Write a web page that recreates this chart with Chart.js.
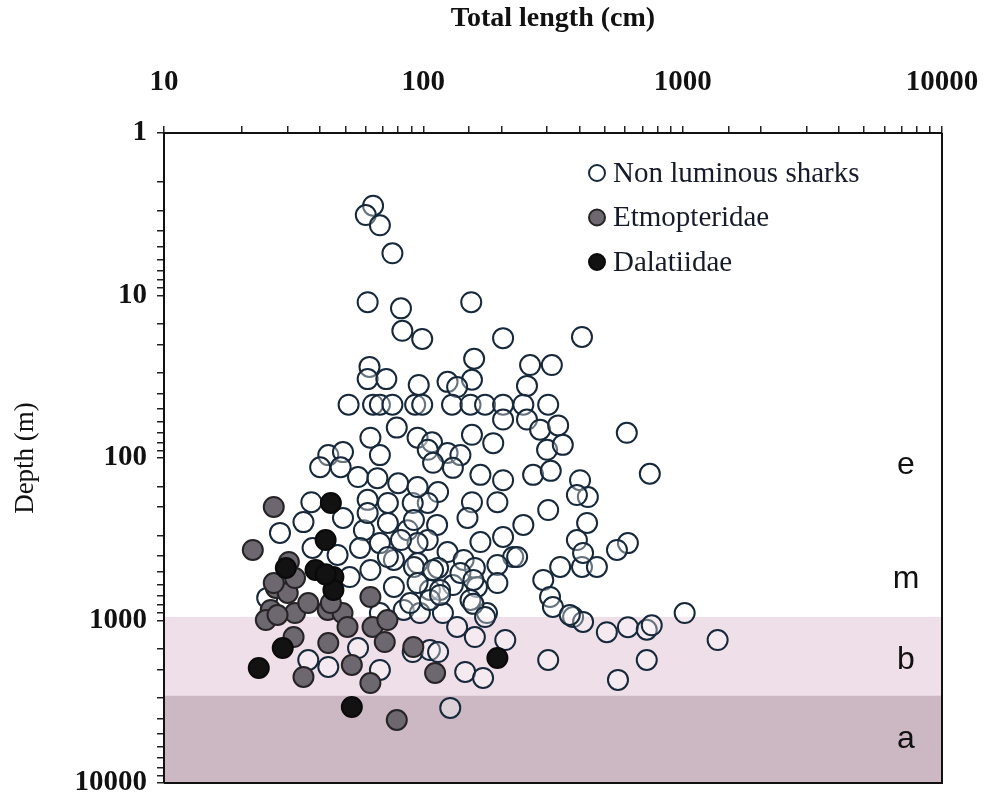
<!DOCTYPE html>
<html>
<head>
<meta charset="utf-8">
<script src="https://cdn.jsdelivr.net/npm/chart.js@4.4.1/dist/chart.umd.min.js"></script>
<style>
  html, body { margin: 0; padding: 0; background: #fff; }
  #wrap { width: 984px; height: 801px; }
</style>
</head>
<body>
<div id="wrap"><canvas id="sharkChart" width="984" height="801"></canvas></div>
<script>
// ============================================
// DATA (total length in cm, depth in m)
// ============================================
const lengthTicks = [10, 100, 1000, 10000];
const depthTicks = [1, 10, 100, 1000, 10000];
const seriesNames = ['Non luminous sharks', 'Etmopteridae', 'Dalatiidae'];

const nonLuminous = [
    [64, 2.8], [60, 3.2], [68, 3.7], [76, 5.5],
    [61, 11], [82, 12], [153, 11], [83, 16.5], [99, 18.5], [203, 18.3], [409, 18],
    [157, 24.5], [258, 26.8], [313, 26.8], [62, 27.5], [61, 32.7], [72, 32.7], [154, 33],
    [96, 35.5], [124, 34], [135, 36.6], [251, 36],
    [51.5, 47], [64, 47], [68, 47], [76, 47], [93, 47], [99, 47], [129, 47], [152, 47],
    [173, 47], [203, 47], [243, 47], [303, 47],
    [203, 58], [251, 58], [282, 67], [331, 63], [79, 65], [62.5, 75], [95, 75], [108, 80],
    [154, 72], [186, 81], [104, 89], [300, 89], [345, 83],
    [43, 96], [49, 92], [68, 96], [124, 93], [139, 96], [609, 70], [747, 125],
    [265, 127], [310, 120], [402, 137], [431, 174], [303, 209], [243, 258], [428, 251],
    [391, 320], [615, 334], [558, 368], [222, 407], [337, 468], [409, 468], [467, 468],
    [290, 563], [308, 716], [316, 826], [378, 952], [413, 1020], [510, 1180], [615, 1100],
    [727, 1140], [760, 1070], [1018, 900], [1364, 1320], [303, 1750], [727, 1750], [563, 2320],
    [109, 107], [130, 115], [166, 127], [203, 137], [391, 169], [114, 162], [104, 189],
    [154, 187], [193, 187], [113, 258], [148, 234], [104, 320], [166, 329], [203, 306],
    [124, 379], [143, 424], [230, 407], [193, 455], [413, 384], [114, 475], [158, 475],
    [130, 605], [161, 622], [193, 588], [106, 649],
    [37, 187], [61, 181], [73, 189], [91, 189], [48, 114], [40, 114], [56, 131], [66.5, 133],
    [80, 143], [95, 151], [28, 289], [34.5, 248], [49, 234], [59, 278], [73, 251], [87, 278],
    [37.4, 358], [46.7, 395], [57, 358], [68, 334], [77, 424], [95, 334], [95, 443],
    [62.5, 489], [52, 540],
    [61, 218], [82, 320], [92, 241], [73, 407], [92, 468], [109, 489], [77, 622], [95, 588],
    [116, 649], [139, 510], [156, 563], [68, 900], [84, 861], [97, 900], [119, 900],
    [152, 747], [176, 900], [25, 726],
    [36, 1750], [43, 1932], [56, 1477], [68, 2016], [89, 781], [106, 747], [91, 1563],
    [106, 1520], [127, 3450],
    [116, 696], [156, 790], [173, 952], [135, 1096], [158, 1264], [114, 1563], [207, 1320],
    [145, 2074], [170, 2258], [367, 925]
];

const etmopteridae = [
    [26.5, 200], [22, 368], [30.3, 436], [27, 631], [30, 677], [25.8, 861], [32, 900],
    [36, 781], [24.7, 994], [31.6, 1264], [42.8, 861], [48.8, 900], [62.5, 716], [51, 1096],
    [63.7, 1096], [72.7, 994], [43, 1376], [53, 1878], [62.5, 2426], [34.5, 2226],
    [91.5, 1456], [111, 2104], [79, 4095], [27.4, 925], [44, 781], [71, 1357], [32, 548],
    [26.5, 588]
];

const dalatiidae = [
    [44, 189], [42, 320], [29.5, 475], [38.4, 489], [45, 540], [45, 649], [42, 520],
    [28.7, 1477], [23.2, 1960], [53, 3406], [193, 1701]
];

// depth zones: epipelagic, mesopelagic, bathyal, abyssal
const zoneNames = ['e', 'm', 'b', 'a'];
const zoneLabelDepths = [110, 560, 1750, 5400];
const bathyalBand = [950, 2900];
const abyssalBand = [2900, 10000];

// ============================================
// HELPERS
// ============================================
const toPoints = (rows) => rows.map(([x, y]) => ({ x: x, y: y }));
const isDecade = (list, v) => list.some(t => Math.abs(t - v) < t * 1e-6);

const serif = '"Liberation Serif", "DejaVu Serif", serif';
const tickFont = { family: serif, size: 29, weight: 'bold' };
const hollowFill = 'rgba(255,255,255,0.35)';

// background bands drawn under the axes and points
const depthBands = {
    id: 'depthBands',
    beforeDraw(chart) {
        const { ctx, chartArea, scales } = chart;
        const y = scales.y;
        ctx.save();
        ctx.fillStyle = '#efdfe8';
        let top = y.getPixelForValue(bathyalBand[0]);
        let bot = y.getPixelForValue(bathyalBand[1]);
        ctx.fillRect(chartArea.left, top, chartArea.right - chartArea.left, bot - top);
        ctx.fillStyle = '#cbb8c3';
        top = y.getPixelForValue(abyssalBand[0]);
        bot = y.getPixelForValue(abyssalBand[1]);
        ctx.fillRect(chartArea.left, top, chartArea.right - chartArea.left, bot - top);
        ctx.restore();
    }
};

// frame, zone letters and the inset legend
const overlay = {
    id: 'overlay',
    afterDatasetsDraw(chart) {
        const { ctx, chartArea, scales } = chart;
        ctx.save();
        ctx.strokeStyle = '#111';
        ctx.lineWidth = 2;
        ctx.beginPath();
        ctx.moveTo(chartArea.right, chartArea.top);
        ctx.lineTo(chartArea.right, chartArea.bottom);
        ctx.lineTo(chartArea.left, chartArea.bottom);
        ctx.stroke();

        ctx.fillStyle = '#111';
        ctx.font = '32px "Liberation Sans", Arial, sans-serif';
        ctx.textAlign = 'center';
        ctx.textBaseline = 'middle';
        zoneNames.forEach((name, i) => {
            ctx.fillText(name, chartArea.right - 36, scales.y.getPixelForValue(zoneLabelDepths[i]));
        });

        // legend
        const lx = chartArea.left + 433;
        const ly = chartArea.top + 40;
        ctx.textAlign = 'left';
        ctx.font = '29px ' + serif;
        chart.data.datasets.forEach((ds, i) => {
            const cy = ly + i * 44.5;
            ctx.beginPath();
            ctx.arc(lx, cy, 8, 0, Math.PI * 2);
            ctx.fillStyle = ds.backgroundColor === hollowFill ? '#fff' : ds.backgroundColor;
            ctx.fill();
            ctx.lineWidth = 2;
            ctx.strokeStyle = ds.borderColor;
            ctx.stroke();
            ctx.fillStyle = '#161b29';
            ctx.fillText(ds.label, lx + 16, cy + 1);
        });
        ctx.restore();
    }
};

// ============================================
// CHART
// ============================================
const ctx = document.getElementById('sharkChart').getContext('2d');

new Chart(ctx, {
    type: 'scatter',
    data: {
        datasets: [
            {
                label: seriesNames[0],
                data: toPoints(nonLuminous),
                backgroundColor: hollowFill,
                borderColor: '#16283a',
                borderWidth: 2,
                pointRadius: 10,
                order: 3
            },
            {
                label: seriesNames[1],
                data: toPoints(etmopteridae),
                backgroundColor: '#6d6770',
                borderColor: '#262326',
                borderWidth: 2,
                pointRadius: 10,
                order: 2
            },
            {
                label: seriesNames[2],
                data: toPoints(dalatiidae),
                backgroundColor: '#121212',
                borderColor: '#0a0a0a',
                borderWidth: 2,
                pointRadius: 10,
                order: 1
            }
        ]
    },
    options: {
        responsive: false,
        animation: false,
        layout: {
            padding: { top: 0, left: 0, right: 42, bottom: 18 }
        },
        plugins: {
            legend: { display: false },
            tooltip: { enabled: false }
        },
        scales: {
            x: {
                type: 'logarithmic',
                position: 'top',
                min: 10,
                max: 10000,
                afterFit: (scale) => {
                    scale.height = 133;
                    scale.paddingLeft = 0;
                    scale.paddingRight = 0;
                },
                title: {
                    display: true,
                    text: 'Total length (cm)',
                    color: '#111',
                    font: { family: serif, size: 28, weight: 'bold' },
                    padding: { top: 2, bottom: 0 }
                },
                ticks: {
                    autoSkip: false,
                    maxRotation: 0,
                    padding: 26,
                    color: '#111',
                    font: tickFont,
                    callback: (v) => isDecade(lengthTicks, v) ? String(v) : ''
                },
                grid: {
                    drawOnChartArea: false,
                    drawTicks: true,
                    tickLength: 7,
                    color: '#222',
                    lineWidth: 1.5
                },
                border: { display: true, color: '#111', width: 2 }
            },
            y: {
                type: 'logarithmic',
                position: 'left',
                reverse: true,
                min: 1,
                max: 10000,
                afterFit: (scale) => {
                    scale.width = 164;
                    scale.paddingTop = 0;
                    scale.paddingBottom = 0;
                },
                title: {
                    display: true,
                    text: 'Depth (m)',
                    color: '#111',
                    font: { family: serif, size: 27 },
                    padding: { top: 10, bottom: 0 }
                },
                ticks: {
                    autoSkip: false,
                    padding: 10,
                    color: '#111',
                    font: tickFont,
                    callback: (v) => isDecade(depthTicks, v) ? String(v) : ''
                },
                grid: {
                    drawOnChartArea: false,
                    drawTicks: true,
                    tickLength: 7,
                    color: '#222',
                    lineWidth: 1.5
                },
                border: { display: true, color: '#111', width: 2 }
            }
        }
    },
    plugins: [depthBands, overlay]
});
</script>
</body>
</html>
